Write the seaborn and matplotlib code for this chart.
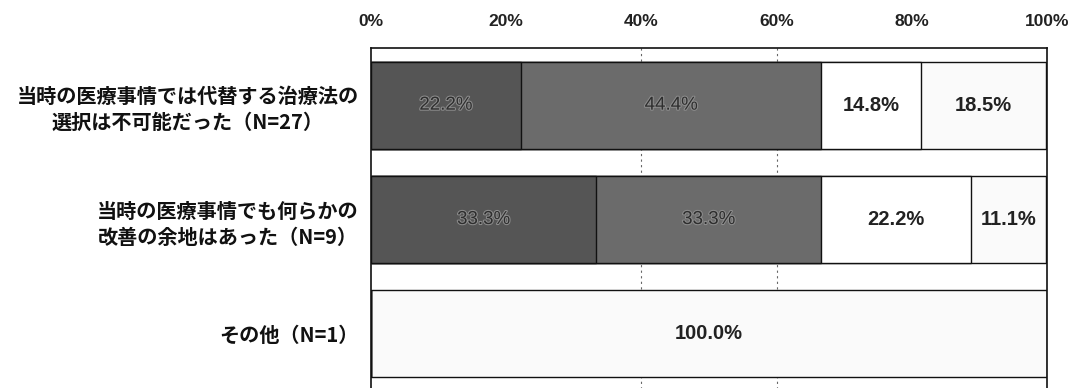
import matplotlib
matplotlib.use("Agg")
import matplotlib.pyplot as plt
import matplotlib.patheffects as pe
import numpy as np
import pandas as pd
import seaborn as sns

# Response groups (rows) and the four answer shares for each (percent)
categories = [
    "当時の医療事情では代替する治療法の\n選択は不可能だった（N=27）",
    "当時の医療事情でも何らかの\n改善の余地はあった（N=9）",
    "その他（N=1）",
]
seg1 = [22.2, 33.3, 0.0]
seg2 = [44.4, 33.3, 0.0]
seg3 = [14.8, 22.2, 0.0]
seg4 = [18.5, 11.1, 100.0]

x_ticks = [0, 20, 40, 60, 80, 100]
x_tick_labels = ["0%", "20%", "40%", "60%", "80%", "100%"]
grid_positions = [40, 60]

seg_colors = ["#555555", "#6b6b6b", "#ffffff", "#fafafa"]
label_colors = ["#2e2e2e", "#2e2e2e", "#222222", "#222222"]

sns.set_theme(style="white")
plt.rcParams["font.family"] = ["Liberation Sans", "Noto Sans CJK JP", "DejaVu Sans"]

segments = [seg1, seg2, seg3, seg4]
values = np.array(segments)            # shape (4, n_rows)
cum = np.cumsum(values, axis=0)        # right edge of each segment

fig = plt.figure(figsize=(10.73, 3.88), dpi=100)
ax = fig.add_axes([371 / 1073, -3 / 388, 676 / 1073, 343 / 388])

# dashed guide lines behind the bars
for gx in grid_positions:
    ax.axvline(gx, color="#666666", lw=0.8, ls=(0, (2, 3)), zorder=0)

# stacked bars: draw the running totals from the widest to the narrowest
for i in reversed(range(len(segments))):
    df = pd.DataFrame({"group": categories, "right": cum[i]})
    sns.barplot(
        data=df, x="right", y="group", order=categories, orient="h",
        color=seg_colors[i], saturation=1, edgecolor="#111111",
        linewidth=1.0, width=0.76, ax=ax, zorder=2,
    )

# value labels centred in each segment
for i in range(len(segments)):
    for r, v in enumerate(values[i]):
        if v <= 0:
            continue
        xc = cum[i][r] - v / 2
        if i < 2:
            ax.text(xc, r, f"{v:.1f}%", ha="center", va="center",
                    fontsize=13.5, color=label_colors[i], zorder=5,
                    path_effects=[pe.withStroke(linewidth=1.5, foreground="#8c8c8c")])
        else:
            ax.text(xc, r, f"{v:.1f}%", ha="center", va="center",
                    fontsize=14.5, color=label_colors[i], fontweight="bold",
                    zorder=5)

ax.set_xlim(0, 100)
ax.set_ylim(2.5, -0.5)
ax.set_xlabel("")
ax.set_ylabel("")

ax.xaxis.tick_top()
ax.set_xticks(x_ticks)
ax.set_xticklabels(x_tick_labels, fontsize=12.5, fontweight="bold", color="#222222")
ax.tick_params(axis="x", length=0, pad=14)

ax.set_yticks(range(len(categories)))
ax.set_yticklabels(categories, family=["Noto Sans CJK JP", "DejaVu Sans"],
                   fontsize=14.5, fontweight="bold", color="#111111")
for t in ax.get_yticklabels():
    t.set_multialignment("center")
    t.set_linespacing(1.3)
ax.tick_params(axis="y", which="major", length=0, pad=9)
ax.set_yticks([0.5, 1.5], minor=True)
ax.tick_params(axis="y", which="minor", direction="in", length=5, width=0.9, color="#333333")

for s in ax.spines.values():
    s.set_visible(True)
    s.set_color("#111111")
    s.set_linewidth(1.2)

fig.savefig("out.png", dpi=100)
